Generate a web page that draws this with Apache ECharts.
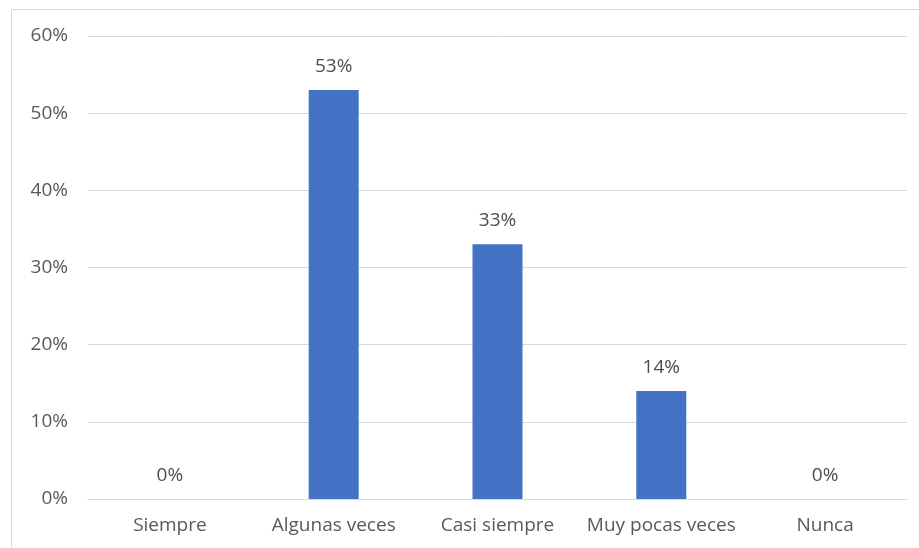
<!DOCTYPE html>
<html>
<head>
<meta charset="utf-8">
<script src="https://cdn.jsdelivr.net/npm/echarts@6/dist/echarts.min.js"></script>
<style>
html,body{margin:0;padding:0;background:#fff;}
#c{width:919px;height:548px;}
</style>
</head>
<body>
<div id="c"></div>
<script>
const categories = ["Siempre", "Algunas veces", "Casi siempre", "Muy pocas veces", "Nunca"];
const values = [0, 53, 33, 14, 0];
const yTicks = [0, 10, 20, 30, 40, 50, 60];

const chart = echarts.init(document.getElementById('c'), null, {renderer: 'canvas'});
chart.setOption({
  animation: false,
  textStyle: {fontFamily: 'Open Sans, Noto Sans, sans-serif'},
  graphic: [{
    type: 'rect', silent: true,
    shape: {x: 11.5, y: 9.5, width: 920, height: 560},
    style: {fill: 'none', stroke: '#d9d9d9', lineWidth: 1}
  }],
  grid: {left: 88, right: 12, top: 36, bottom: 49, containLabel: false},
  xAxis: {
    type: 'category',
    data: categories,
    axisLine: {show: true, lineStyle: {color: '#d9d9d9', width: 1}},
    axisTick: {show: false},
    axisLabel: {color: '#595959', fontSize: 19, margin: 17, interval: 0, hideOverlap: false}
  },
  yAxis: {
    type: 'value',
    min: yTicks[0], max: yTicks[yTicks.length - 1], interval: 10,
    axisLine: {show: false},
    axisTick: {show: false},
    splitLine: {lineStyle: {color: '#d9d9d9', width: 1}},
    axisLabel: {color: '#595959', fontSize: 19, margin: 20, formatter: v => v + '%'}
  },
  series: [{
    type: 'bar',
    data: values,
    barWidth: 50,
    itemStyle: {color: '#4472c4'},
    label: {
      show: true, position: 'top', distance: 14,
      color: '#4d4d4d', fontSize: 19,
      formatter: p => p.value + '%'
    }
  }]
});
</script>
</body>
</html>
